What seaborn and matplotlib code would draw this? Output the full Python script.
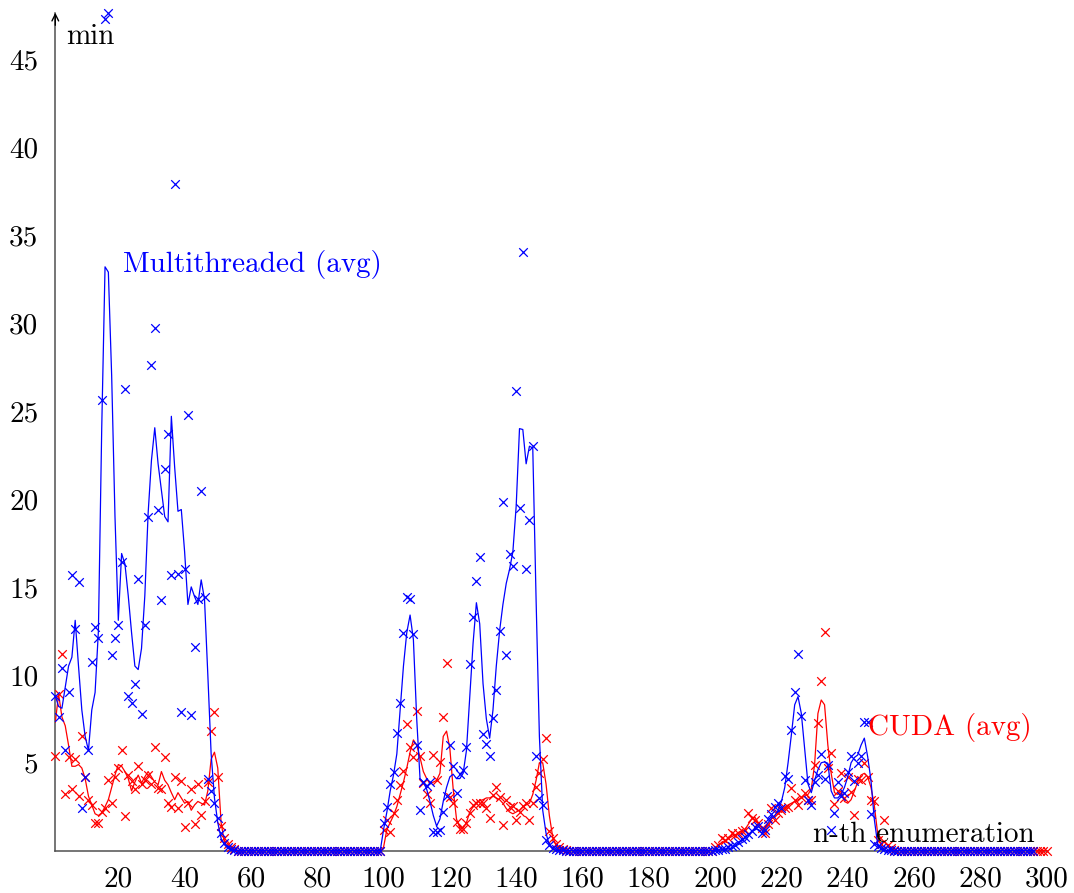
import numpy as np
import pandas as pd
import matplotlib
matplotlib.use("Agg")
import matplotlib.pyplot as plt
import seaborn as sns

# ---------------- data ----------------
# Multithreaded: single measurements (x markers), n = 1..296
mt_pts = [
    8.8, 7.6, 10.4, 5.7, 9.0, 15.7, 12.6, 15.3, 2.4, 4.2,
    5.7, 10.75, 12.7, 12.1, 25.6, 47.3, 47.65, 11.1, 12.1, 12.85,
    16.4, 26.25, 8.8, 8.4, 9.5, 15.45, 7.8, 12.85, 19.0, 27.6,
    29.7, 19.4, 14.25, 21.7, 23.7, 15.7, 37.9, 15.75, 7.9, 16.0,
    24.8, 7.7, 11.6, 14.3, 20.45, 14.45, 4.1, 3.4, 2.7, 1.85,
    1.0, 0.45, 0.2, 0.1, 0.05, 0, 0, 0, 0, 0,
    0, 0, 0, 0, 0, 0, 0, 0, 0, 0,
    0, 0, 0, 0, 0, 0, 0, 0, 0, 0,
    0, 0, 0, 0, 0, 0, 0, 0, 0, 0,
    0, 0, 0, 0, 0, 0, 0, 0, 0, 1.55,
    2.5, 3.8, 4.5, 6.7, 8.4, 12.4, 14.4, 14.3, 12.3, 6.0,
    2.3, 3.9, 3.7, 3.9, 1.05, 1.05, 1.15, 2.2, 3.1, 6.0,
    4.8, 3.3, 4.35, 4.6, 5.9, 10.6, 13.3, 15.35, 16.7, 6.65,
    6.05, 5.4, 7.55, 9.15, 12.5, 19.8, 11.15, 16.85, 16.2, 26.15,
    19.5, 34.05, 16.0, 18.8, 23.0, 5.4, 3.0, 2.6, 0.6, 0.3,
    0.15, 0.08, 0.04, 0.02, 0, 0, 0, 0, 0, 0,
    0, 0, 0, 0, 0, 0, 0, 0, 0, 0,
    0, 0, 0, 0, 0, 0, 0, 0, 0, 0,
    0, 0, 0, 0, 0, 0, 0, 0, 0, 0,
    0, 0, 0, 0, 0, 0, 0, 0, 0, 0.02,
    0.04, 0.07, 0.12, 0.2, 0.25, 0.35, 0.5, 0.65, 0.8, 0.95,
    1.1, 1.35, 1.4, 1.0, 1.2, 1.8, 2.1, 2.5, 2.7, 2.4,
    4.25, 4.1, 6.86, 9.0, 11.17, 7.68, 4.0, 2.9, 2.6, 3.9,
    4.3, 5.5, 4.1, 4.9, 1.2, 2.15, 3.9, 3.1, 3.3, 4.45,
    5.4, 3.95, 5.0, 5.4, 7.34, 7.34, 2.1, 0.4, 0.27, 0.15,
    0.08, 0.04, 0.02, 0.01, 0, 0, 0, 0, 0, 0,
    0, 0, 0, 0, 0, 0, 0, 0, 0, 0,
    0, 0, 0, 0, 0, 0, 0, 0, 0, 0,
    0, 0, 0, 0, 0, 0, 0, 0, 0, 0,
    0, 0, 0, 0, 0, 0,
]

# Multithreaded (avg) line, n = 1..296
mt_avg = [
    8.8, 8.2, 8.1, 9.3, 10.5, 11.0, 13.1, 10.5, 8.0, 6.5,
    5.7, 8.0, 9.0, 12.5, 24.0, 33.2, 32.9, 27.0, 19.0, 13.1,
    16.9, 16.3, 14.5, 12.4, 10.5, 10.3, 11.5, 14.5, 19.2, 22.2,
    24.05, 22.0, 20.5, 19.0, 18.7, 24.7, 21.8, 19.3, 19.4, 17.0,
    14.0, 15.0, 14.45, 14.0, 15.4, 14.3, 10.0, 5.5, 3.0, 1.6,
    0.7, 0.34, 0.15, 0.05, 0, 0, 0, 0, 0, 0,
    0, 0, 0, 0, 0, 0, 0, 0, 0, 0,
    0, 0, 0, 0, 0, 0, 0, 0, 0, 0,
    0, 0, 0, 0, 0, 0, 0, 0, 0, 0,
    0, 0, 0, 0, 0, 0, 0, 0, 0, 1.2,
    2.2, 3.4, 4.3, 5.5, 8.0, 10.5, 12.4, 13.4, 12.0, 7.5,
    4.1, 3.9, 3.5, 2.8, 2.0, 1.4, 1.8, 2.8, 3.6, 4.2,
    4.35, 4.1, 4.1, 4.4, 5.7, 8.75, 11.8, 14.1, 12.9, 9.5,
    7.5, 6.4, 8.0, 10.5, 12.5, 14.0, 15.2, 16.0, 17.0, 19.6,
    24.0, 23.95, 22.0, 23.0, 22.9, 14.3, 6.5, 2.3, 1.0, 0.3,
    0.1, 0, 0, 0, 0, 0, 0, 0, 0, 0,
    0, 0, 0, 0, 0, 0, 0, 0, 0, 0,
    0, 0, 0, 0, 0, 0, 0, 0, 0, 0,
    0, 0, 0, 0, 0, 0, 0, 0, 0, 0,
    0, 0, 0, 0, 0, 0, 0, 0, 0, 0.02,
    0.04, 0.06, 0.08, 0.1, 0.14, 0.25, 0.35, 0.45, 0.55, 0.8,
    1.05, 1.27, 1.2, 1.0, 1.3, 1.6, 1.85, 2.0, 2.3, 2.8,
    3.6, 5.0, 6.6, 8.3, 8.76, 7.8, 5.8, 3.8, 3.3, 4.0,
    4.6, 5.0, 5.05, 4.97, 3.4, 3.0, 3.0, 3.2, 3.6, 4.2,
    5.0, 5.3, 5.44, 6.0, 6.4, 5.35, 4.0, 1.8, 0.4, 0.15,
    0.05, 0, 0, 0, 0, 0, 0, 0, 0, 0,
    0, 0, 0, 0, 0, 0, 0, 0, 0, 0,
    0, 0, 0, 0, 0, 0, 0, 0, 0, 0,
    0, 0, 0, 0, 0, 0, 0, 0, 0, 0,
    0, 0, 0, 0, 0, 0,
]

# CUDA: single measurements (x markers), n = 1..300
cuda_pts = [
    5.4, 8.9, 11.2, 3.2, 5.35, 3.5, 5.2, 3.1, 6.5, 4.2,
    2.9, 2.6, 1.6, 1.6, 2.2, 2.45, 4.0, 2.7, 4.2, 4.7,
    5.7, 1.95, 4.3, 3.95, 3.5, 4.8, 3.8, 4.0, 4.3, 3.8,
    5.9, 3.55, 3.5, 5.35, 2.7, 2.5, 4.2, 2.45, 3.95, 1.35,
    2.7, 3.5, 1.5, 3.8, 2.05, 2.8, 3.9, 6.8, 7.9, 4.2,
    1.4, 0.7, 0.4, 0.2, 0.1, 0, 0, 0, 0, 0,
    0, 0, 0, 0, 0, 0, 0, 0, 0, 0,
    0, 0, 0, 0, 0, 0, 0, 0, 0, 0,
    0, 0, 0, 0, 0, 0, 0, 0, 0, 0,
    0, 0, 0, 0, 0, 0, 0, 0, 0, 1.18,
    1.75, 1.08, 2.13, 2.9, 3.75, 4.55, 7.2, 5.9, 5.35, 7.97,
    5.4, 3.83, 3.2, 2.74, 5.45, 4.0, 5.07, 7.6, 10.7, 3.07,
    2.7, 1.65, 1.22, 1.22, 1.6, 2.13, 2.6, 2.7, 2.7, 2.7,
    2.4, 1.84, 3.17, 3.64, 3.07, 1.46, 2.88, 2.5, 2.54, 1.75,
    2.2, 2.54, 2.74, 1.75, 2.7, 3.6, 4.4, 5.2, 6.4, 1.1,
    0.7, 0.4, 0.2, 0.1, 0.05, 0, 0, 0, 0, 0,
    0, 0, 0, 0, 0, 0, 0, 0, 0, 0,
    0, 0, 0, 0, 0, 0, 0, 0, 0, 0,
    0, 0, 0, 0, 0, 0, 0, 0, 0, 0,
    0, 0, 0, 0, 0, 0, 0, 0, 0, 0.2,
    0.35, 0.7, 0.6, 0.7, 1.0, 0.9, 1.0, 1.1, 1.18, 2.13,
    1.84, 1.75, 1.6, 1.3, 1.0, 1.5, 2.4, 1.75, 2.13, 2.3,
    2.4, 2.5, 3.55, 2.9, 2.6, 3.07, 3.26, 2.9, 2.9, 4.87,
    7.24, 9.65, 12.45, 4.68, 5.57, 2.65, 3.4, 4.4, 3.0, 4.2,
    3.36, 2.03, 4.1, 4.0, 4.97, 4.2, 2.9, 2.8, 0.6, 0.4,
    1.75, 0.3, 0.15, 0.05, 0, 0, 0, 0, 0, 0,
    0, 0, 0, 0, 0, 0, 0, 0, 0, 0,
    0, 0, 0, 0, 0, 0, 0, 0, 0, 0,
    0, 0, 0, 0, 0, 0, 0, 0, 0, 0,
    0, 0, 0, 0, 0, 0, 0, 0, 0, 0,
]

# CUDA (avg) line, n = 1..300
cuda_avg = [
    7.3, 8.9, 7.6, 7.1, 6.0, 4.8, 4.8, 4.9, 4.7, 4.1,
    3.1, 2.6, 2.1, 2.0, 2.15, 2.5, 2.9, 3.6, 4.3, 4.9,
    4.8, 4.5, 4.1, 3.4, 3.9, 4.3, 3.85, 4.2, 4.5, 4.2,
    3.9, 3.75, 4.5, 4.0, 3.75, 3.3, 2.9, 3.3, 3.0, 2.7,
    2.8, 2.3, 2.6, 2.8, 2.7, 2.6, 3.4, 5.2, 5.6, 4.7,
    1.6, 0.5, 0.2, 0.05, 0, 0, 0, 0, 0, 0,
    0, 0, 0, 0, 0, 0, 0, 0, 0, 0,
    0, 0, 0, 0, 0, 0, 0, 0, 0, 0,
    0, 0, 0, 0, 0, 0, 0, 0, 0, 0,
    0, 0, 0, 0, 0, 0, 0, 0, 0, 0.2,
    1.2, 1.6, 2.0, 2.5, 3.2, 3.9, 4.7, 5.6, 6.3, 6.0,
    5.3, 4.5, 4.1, 3.8, 3.9, 4.0, 4.4, 6.5, 6.8, 5.8,
    3.5, 1.8, 1.3, 1.3, 1.6, 2.2, 2.5, 2.7, 2.85, 2.9,
    3.0, 3.0, 3.1, 3.0, 2.9, 2.7, 2.4, 2.2, 2.1, 2.2,
    2.3, 2.5, 2.6, 2.7, 3.2, 4.0, 5.0, 5.0, 3.8, 2.0,
    0.8, 0.3, 0.1, 0, 0, 0, 0, 0, 0, 0,
    0, 0, 0, 0, 0, 0, 0, 0, 0, 0,
    0, 0, 0, 0, 0, 0, 0, 0, 0, 0,
    0, 0, 0, 0, 0, 0, 0, 0, 0, 0,
    0, 0, 0, 0, 0, 0, 0, 0, 0, 0.1,
    0.3, 0.45, 0.55, 0.7, 0.8, 0.9, 1.0, 1.1, 1.2, 1.5,
    1.8, 1.9, 1.6, 1.3, 1.2, 1.4, 1.8, 2.0, 2.2, 2.3,
    2.45, 2.6, 2.7, 2.8, 2.9, 3.0, 3.1, 3.2, 3.5, 4.9,
    7.8, 8.57, 8.3, 6.0, 4.4, 3.3, 3.2, 3.4, 2.8, 2.7,
    2.9, 3.4, 3.9, 4.3, 4.4, 4.2, 3.6, 2.6, 1.0, 0.7,
    0.5, 0.3, 0.1, 0, 0, 0, 0, 0, 0, 0,
    0, 0, 0, 0, 0, 0, 0, 0, 0, 0,
    0, 0, 0, 0, 0, 0, 0, 0, 0, 0,
    0, 0, 0, 0, 0, 0, 0, 0, 0, 0,
    0, 0, 0, 0, 0, 0, 0, 0, 0, 0,
]

x_ticks = [20, 40, 60, 80, 100, 120, 140, 160, 180, 200, 220, 240, 260, 280, 300]
y_ticks = [5, 10, 15, 20, 25, 30, 35, 40, 45]
label_mt = "Multithreaded (avg)"
label_cuda = "CUDA (avg)"
x_label = "n-th enumeration"
y_label = "min"

# ---------------- frames ----------------
mt = pd.DataFrame({"n": np.arange(1, len(mt_pts) + 1), "pts": mt_pts, "avg": mt_avg})
cu = pd.DataFrame({"n": np.arange(1, len(cuda_pts) + 1), "pts": cuda_pts, "avg": cuda_avg})

# ---------------- style ----------------
sns.set_theme(style="white")
plt.rcParams["font.family"] = ["cmr10", "DejaVu Serif"]
plt.rcParams["axes.unicode_minus"] = False
plt.rcParams["mathtext.fontset"] = "cm"

BLUE = "#0000ff"
RED = "#ff0000"
AXC = "#505050"
FS = 21

fig = plt.figure(figsize=(10.74, 8.93), dpi=100)
W, H = 1074.0, 893.0
left_px, right_px = 55.3, 1046.7
bottom_px, top_px = 850.7, 12.7
ax = fig.add_axes([left_px / W, 1 - bottom_px / H,
                   (right_px - left_px) / W, (bottom_px - top_px) / H])

mk = dict(marker="x", s=38, linewidth=0.9, clip_on=False, zorder=3)
sns.scatterplot(data=cu, x="n", y="pts", color=RED, ax=ax, **mk)
sns.lineplot(data=cu, x="n", y="avg", color=RED, linewidth=0.9, ax=ax,
             estimator=None, sort=False, zorder=3)
sns.scatterplot(data=mt, x="n", y="pts", color=BLUE, ax=ax, **mk)
sns.lineplot(data=mt, x="n", y="avg", color=BLUE, linewidth=0.9, ax=ax,
             estimator=None, sort=False, zorder=3)

ax.set_xlim(1, 300)
ax.set_ylim(0, 47.65)
ax.set_xlabel("")
ax.set_ylabel("")

for s in ["top", "right"]:
    ax.spines[s].set_visible(False)
for s in ["left", "bottom"]:
    ax.spines[s].set_color(AXC)
    ax.spines[s].set_linewidth(1.1)

ax.set_xticks(x_ticks)
ax.set_yticks(y_ticks)
ax.set_xticklabels([str(t) for t in x_ticks])
ax.set_yticklabels([str(t) for t in y_ticks])
ax.tick_params(axis="both", direction="inout", length=8.5, width=0.7,
               color="#808080", labelsize=FS, labelcolor="black")
ax.tick_params(axis="x", pad=7)
ax.tick_params(axis="y", pad=8)
ax.grid(False)

# y axis arrow
ax.annotate("", xy=(0, 1.0), xytext=(0, 0.985), xycoords="axes fraction",
            arrowprops=dict(arrowstyle="->", color="black", lw=1.0,
                            mutation_scale=12, shrinkA=0, shrinkB=0),
            annotation_clip=False)

# texts
ax.text(0.0106, 0.963, y_label, transform=ax.transAxes, fontsize=FS,
        ha="left", va="baseline", color="black")
ax.text(0.988, 0.0104, x_label, transform=ax.transAxes, fontsize=FS,
        ha="right", va="baseline", color="black")
ax.text(21.4, 32.9, label_mt, fontsize=FS, color=BLUE, ha="left", va="baseline")
ax.text(246.1, 6.58, label_cuda, fontsize=FS, color=RED, ha="left", va="baseline")

fig.savefig("out.png", dpi=100)
